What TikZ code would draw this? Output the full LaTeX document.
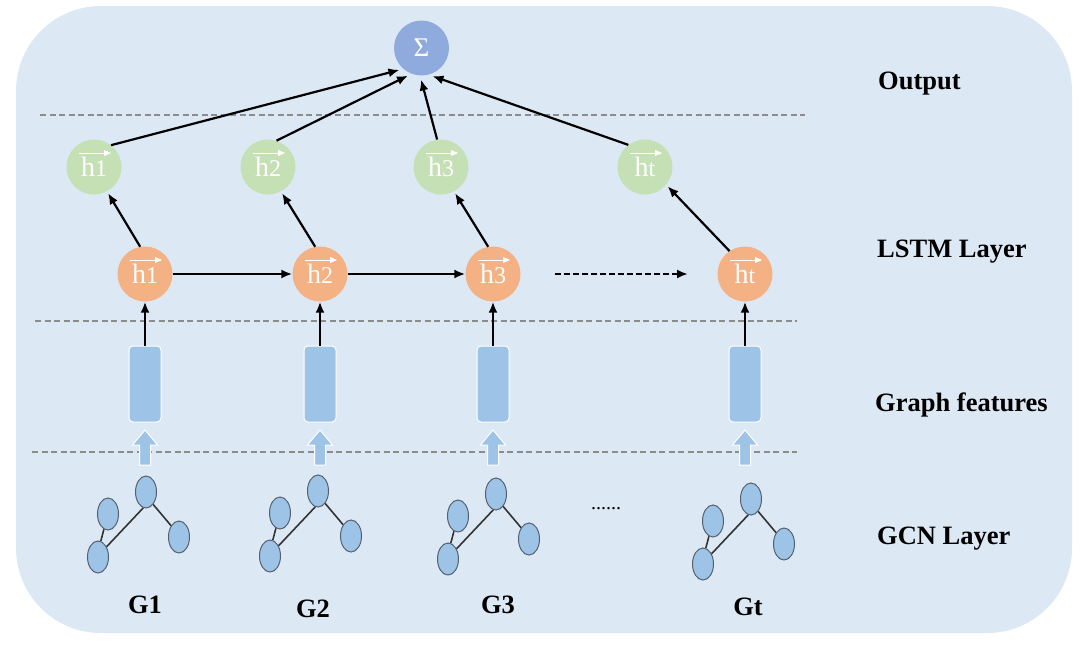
\documentclass[tikz,border=0pt]{standalone}
\usepackage{fontspec}
\setmainfont{Liberation Serif}
\usetikzlibrary{arrows.meta,shapes.geometric}
\definecolor{bgc}{RGB}{221,232,245}
\definecolor{greenc}{RGB}{197,224,180}
\definecolor{orangec}{RGB}{244,177,131}
\definecolor{sigc}{RGB}{143,170,220}
\definecolor{featc}{RGB}{157,195,230}
\definecolor{dashc}{RGB}{140,140,140}
\definecolor{gborder}{RGB}{85,95,110}
\tikzset{
  hnode/.style={circle, minimum size=55, inner sep=0, text=white, font=\fontsize{28}{28}\selectfont},
  gnode/.style={hnode, fill=greenc},
  onode/.style={hnode, fill=orangec},
  signode/.style={circle, minimum size=55, inner sep=0, fill=sigc, text=white, font=\fontsize{27}{27}\selectfont},
  conn/.style={-{Latex[length=11,width=9]}, line width=2.2, black},
  sep/.style={dashc, line width=1.2, dash pattern=on 6 off 3.5},
  feat/.style={rectangle, rounded corners=4, minimum width=32, minimum height=76, inner sep=0, fill=featc, draw=white, line width=1},
  gv/.style={ellipse, minimum width=21, minimum height=32, inner sep=0, fill=featc, draw=gborder, line width=1},
  gedge/.style={line width=1.6, black!80},
  lab/.style={font=\fontsize{26.5}{26.5}\selectfont\bfseries, anchor=base west, inner sep=0},
  glab/.style={font=\fontsize{26.5}{26.5}\selectfont\bfseries, anchor=base, inner sep=0},
  vecarrow/.style={white, line width=0.9, -{Triangle[length=7,width=6]}}
}
\newcommand{\vecmark}[1]{\draw[vecarrow] ([shift={(-15,-14)}]#1.center) -- ([shift={(17,-14)}]#1.center);}
\newcommand{\htxt}[2]{\raisebox{-4.5pt}{#1{\fontsize{24}{24}\selectfont #2}}}
\begin{document}
\begin{tikzpicture}[x=1pt,y=-1pt]
\useasboundingbox (0,0) rectangle (1080,649);
\fill[white] (0,0) rectangle (1080,649);
\fill[bgc, rounded corners=85] (16,6) rectangle (1072,633);

% separators
\draw[sep] (40,115) -- (805,115);
\draw[sep] (35,321) -- (797,321);
\draw[sep] (32,452) -- (797,452);

% output node
\node[signode] (s) at (421.5,48) {Σ};

% green (upper) hidden states
\node[gnode] (g1) at (94,167) {\htxt{h}{1}};
\node[gnode] (g2) at (268,167) {\htxt{h}{2}};
\node[gnode] (g3) at (441,167) {\htxt{h}{3}};
\node[gnode] (g4) at (645,167) {\htxt{h}{t}};

% orange LSTM states
\node[onode] (o1) at (145,274) {\htxt{h}{1}};
\node[onode] (o2) at (320,274) {\htxt{h}{2}};
\node[onode] (o3) at (493,274) {\htxt{h}{3}};
\node[onode] (o4) at (745,274) {\htxt{h}{t}};

\vecmark{g1}\vecmark{g2}\vecmark{g3}\vecmark{g4}
\vecmark{o1}\vecmark{o2}\vecmark{o3}\vecmark{o4}

% arrows to sum
\draw[conn, shorten >=4] (g1.52) -- (s.229);
\draw[conn, shorten >=4] (g2.72) -- (s.249);
\draw[conn, shorten >=4] (g3.98) -- (s.267);
\draw[conn, shorten >=4] (g4.127) -- (s.285);

% orange to green
\draw[conn, shorten >=2] (o1.100) -- (g1.-62);
\draw[conn, shorten >=2] (o2.100) -- (g2.-62);
\draw[conn, shorten >=2] (o3.100) -- (g3.-62);
\draw[conn, shorten >=2] (o4.124) -- (g4.-40);

% horizontal LSTM
\draw[conn] (o1) -- (o2);
\draw[conn] (o2) -- (o3);
\coordinate (d1) at (555,274);
\coordinate (d2) at (688,274);
\draw[conn, dash pattern=on 6 off 3] (d1) -- (d2);

% graph features
\foreach \i/\x in {1/145,2/320,3/493,4/745}{
  \node[feat] (f\i) at (\x,384) {};
  \draw[conn] (f\i.north) -- (o\i.south);
  \filldraw[fill=featc, draw=white, line width=1]
    (\x-5.5,465) -- (\x-5.5,445) -- (\x-12.5,445) -- (\x,430) -- (\x+12.5,445) -- (\x+5.5,445) -- (\x+5.5,465) -- cycle;
}

% GCN graphs
\foreach \n/\dx/\dy in {a/0/0,b/172/-1,c/350/2,d/605/7}{
  \begin{scope}[shift={(\dx,\dy)}]
    \node[gv] (\n-t) at (146,492) {};
    \node[gv] (\n-l) at (108,514) {};
    \node[gv] (\n-r) at (179,537) {};
    \node[gv] (\n-b) at (98,557) {};
    \draw[gedge] (\n-t.-100) -- (\n-b.50);
    \draw[gedge] (\n-t.-60) -- (\n-r.125);
    \draw[gedge] (\n-l.-105) -- (\n-b.80);
  \end{scope}
}
\node[font=\fontsize{20}{20}\selectfont] (dots) at (606,509) {......};

% graph labels
\node[glab] (G1) at (145,613) {G1};
\node[glab] (G2) at (313,617) {G2};
\node[glab] (G3) at (498,613) {G3};
\node[glab] (Gt) at (748,615) {Gt};

% layer labels
\node[lab] (lo) at (878,89) {Output};
\node[lab] (ll) at (877,257) {LSTM Layer};
\node[lab] (lg) at (875,411) {Graph features};
\node[lab] (lc) at (877,544) {GCN Layer};
\end{tikzpicture}
\end{document}
